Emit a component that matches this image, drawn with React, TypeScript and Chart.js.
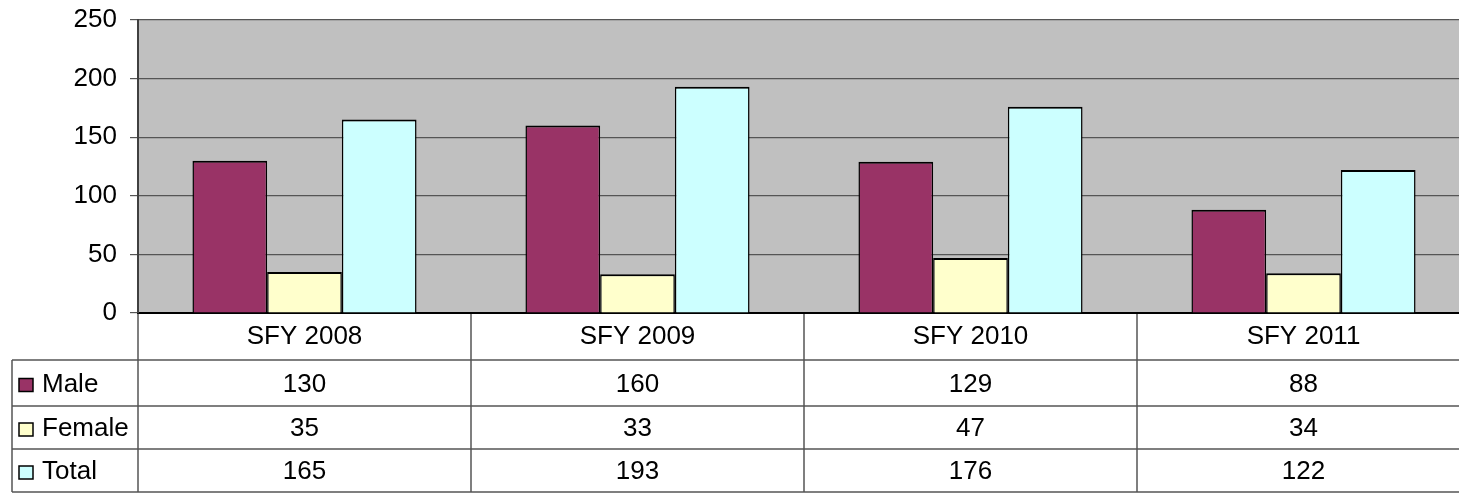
import React, { useEffect, useRef } from "react";
import { Chart, registerables } from "chart.js";

Chart.register(...registerables);

const categories = ["SFY 2008", "SFY 2009", "SFY 2010", "SFY 2011"];
const seriesNames = ["Male", "Female", "Total"];
const maleValues = [130, 160, 129, 88];
const femaleValues = [35, 33, 47, 34];
const totalValues = [165, 193, 176, 122];
const seriesColors = ["#993366", "#FFFFCC", "#CCFFFF"];
const yMax = 250;
const yStep = 50;

const FONT = "'Liberation Sans', Arial, sans-serif";
const FS = 26;

const plotBg = {
  id: "plotBg",
  beforeDraw(chart: any) {
    const { ctx, chartArea } = chart;
    ctx.save();
    ctx.fillStyle = "#C0C0C0";
    ctx.fillRect(chartArea.left, chartArea.top, chartArea.right - chartArea.left, chartArea.bottom - chartArea.top);
    ctx.restore();
  },
};

const dataTable = {
  id: "dataTable",
  afterDraw(chart: any) {
    const { ctx, chartArea } = chart;
    const xs = chart.scales.x;
    const n = categories.length;
    const catW = (chartArea.right - chartArea.left) / n;
    const top = chartArea.bottom + 1;
    const headerBottom = 360;
    const rowBottoms = [406, 449, 492];
    const tableLeft = 12;
    const right = chart.width;
    const allValues = [maleValues, femaleValues, totalValues];

    ctx.save();
    ctx.strokeStyle = "#555555";
    ctx.lineWidth = 1.5;
    const hLines = [headerBottom, ...rowBottoms];
    hLines.forEach((y) => {
      ctx.beginPath();
      ctx.moveTo(tableLeft, y);
      ctx.lineTo(right, y);
      ctx.stroke();
    });
    ctx.beginPath();
    ctx.moveTo(tableLeft, headerBottom);
    ctx.lineTo(tableLeft, rowBottoms[rowBottoms.length - 1]);
    ctx.stroke();
    for (let i = 0; i <= n; i++) {
      const x = i < n ? xs.getPixelForValue(i) - catW / 2 : xs.getPixelForValue(n - 1) + catW / 2;
      ctx.beginPath();
      ctx.moveTo(x, top);
      ctx.lineTo(x, rowBottoms[rowBottoms.length - 1]);
      ctx.stroke();
    }

    ctx.font = `${FS}px ${FONT}`;
    ctx.textBaseline = "middle";
    let prev = headerBottom;
    rowBottoms.forEach((yb, r) => {
      const cy = (prev + yb) / 2 + 1.5;
      ctx.fillStyle = seriesColors[r];
      ctx.fillRect(19, cy - 6, 14, 13);
      ctx.strokeStyle = "#000";
      ctx.lineWidth = 1.5;
      ctx.strokeRect(19, cy - 6, 14, 13);
      ctx.fillStyle = "#000";
      ctx.textAlign = "left";
      ctx.fillText(seriesNames[r], 42, cy);
      ctx.textAlign = "center";
      allValues[r].forEach((v, i) => {
        ctx.fillText(String(v), xs.getPixelForValue(i), cy);
      });
      prev = yb;
    });
    ctx.restore();
  },
};

export default function App() {
  const ref = useRef<HTMLCanvasElement>(null);
  useEffect(() => {
    if (!ref.current) return;
    const mkDs = (label: string, data: number[], color: string) => ({
      label,
      data,
      backgroundColor: color,
      borderColor: "#000",
      borderWidth: { top: 2, left: 1.5, right: 1.5, bottom: 0 },
      borderSkipped: false,
      categoryPercentage: 0.673,
      barPercentage: 1.0,
    });
    const chart = new Chart(ref.current, {
      type: "bar",
      data: {
        labels: categories,
        datasets: [
          mkDs(seriesNames[0], maleValues, seriesColors[0]),
          mkDs(seriesNames[1], femaleValues, seriesColors[1]),
          mkDs(seriesNames[2], totalValues, seriesColors[2]),
        ],
      },
      options: {
        responsive: false,
        animation: false,
        devicePixelRatio: 1,
        layout: { padding: { top: 20, bottom: 135, left: 0, right: 2 } },
        plugins: { legend: { display: false }, tooltip: { enabled: false }, title: { display: false } },
        scales: {
          x: {
            grid: { display: false, drawTicks: false },
            border: { display: true, color: "#000000", width: 2 },
            ticks: { color: "#000", font: { family: FONT, size: FS }, padding: 8, maxRotation: 0 },
            afterFit(scale: any) {
              scale.height = 47;
              scale.paddingLeft = 0;
              scale.paddingRight = 0;
            },
          },
          y: {
            min: 0,
            max: yMax,
            ticks: { stepSize: yStep, color: "#000", font: { family: FONT, size: FS }, padding: 13 },
            grid: { color: "#555555", lineWidth: 1.2, tickLength: 8, tickColor: "#555555" },
            border: { display: true, color: "#404040", width: 2 },
            afterFit(scale: any) {
              scale.width = 138;
              scale.paddingTop = 0;
              scale.paddingBottom = 0;
            },
          },
        },
      },
      plugins: [plotBg, dataTable],
    } as any);
    return () => chart.destroy();
  }, []);
  return (
    <div style={{ position: "absolute", left: 0, top: 0, width: 1459, height: 495, overflow: "hidden", background: "#fff" }}>
      <canvas ref={ref} width={1472} height={495} style={{ display: "block", width: 1472, height: 495 }} />
    </div>
  );
}
